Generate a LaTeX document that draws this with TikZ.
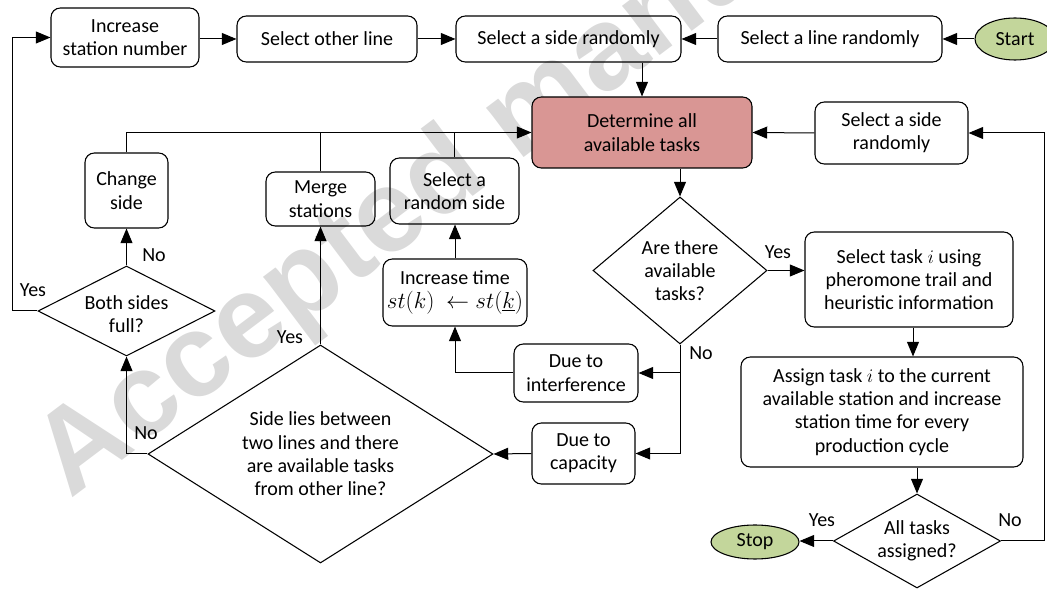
\documentclass[tikz,border=0pt]{standalone}
\usepackage{fontspec}
\setmainfont{Carlito}
\newfontfamily\wmfont{Liberation Sans}
\usetikzlibrary{shapes.geometric,arrows.meta,calc}
\definecolor{detfill}{HTML}{D99694}
\definecolor{termfill}{HTML}{C3D69B}
\definecolor{wmgray}{HTML}{DADADA}
\begin{document}
\begin{tikzpicture}[x=0.75pt,y=-0.75pt,
  every node/.style={font=\fontsize{15}{17.5}\selectfont},
  sz/.style 2 args={minimum width=#1*0.75pt, minimum height=#2*0.75pt},
  box/.style={draw, line width=0.8pt, rounded corners=7pt, align=center, inner sep=0pt},
  dia/.style={draw, diamond, line width=0.8pt, inner sep=0pt},
  term/.style={draw, ellipse, line width=0.8pt, fill=termfill, inner sep=0pt},
  dtext/.style={align=center, inner sep=0pt},
  arr/.style={line width=0.75pt, -{Triangle[length=11pt,width=9pt]}},
  ln/.style={line width=0.75pt},
  lbl/.style={inner sep=0pt},
  wm/.style={text=wmgray, inner sep=0pt, font=\wmfont\bfseries\fontsize{88}{88}\selectfont}
]
\useasboundingbox (0,0) rectangle (1047,591);
% watermark
\node[wm, rotate=37, anchor=base west] (wm) at (70,500) {Accepted manuscript};

% nodes
\node[box, sz={148}{59}] (inc) at (125,37.5) {Increase\\station number};
\node[box, sz={180}{46}] (other) at (327,39) {Select other line};
\node[box, sz={225}{46}] (side1) at (568.5,39) {Select a side randomly};
\node[box, sz={224}{46}] (line) at (830,39) {Select a line randomly};
\node[term, sz={80}{42}] (start) at (1015,39) {Start};
\node[box, fill=detfill, sz={220}{71}] (det) at (642,132.5) {Determine all\\available tasks};
\node[box, sz={153}{62}] (side2) at (891.5,133) {Select a side\\randomly};
\node[box, sz={83}{75}] (chg) at (126.5,190.5) {Change\\side};
\node[box, sz={109}{54}] (merge) at (320.5,199) {Merge\\stations};
\node[box, sz={129}{66}] (rand) at (454.5,191) {Select a\\random side};
\node[box, sz={144}{67}] (inct) at (455,292.5) {Increase time\\{\fontsize{17}{18}\selectfont$st(k)\ \leftarrow st(\underline{k})$}};
\node[box, sz={124}{58}] (intf) at (576,373) {Due to\\interference};
\node[box, sz={103}{61}] (cap) at (583.5,453.5) {Due to\\capacity};
\node[dia, sz={174}{147}] (q1) at (680,270.5) {};
\node[dtext] (q1t) at (q1) {Are there\\available\\tasks?};
\node[box, sz={208}{95}] (sel) at (909,279.5) {Select task $i$ using\\pheromone trail and\\heuristic information};
\node[box, sz={282}{110}] (asg) at (882,412) {Assign task $i$ to the current\\available station and increase\\station time for every\\production cycle};
\node[dia, sz={167}{94}] (q2) at (917,541) {};
\node[dtext] (q2t) at (q2) {All tasks\\assigned?};
\node[term, sz={88}{34}] (stop) at (755,542) {Stop};
\node[dia, sz={177}{90}] (q3) at (126.5,311) {};
\node[dtext] (q3t) at (126.5,314) {Both sides\\full?};
\node[dia, sz={345}{218}] (q4) at (320.5,454) {};
\node[dtext] (q4t) at (q4) {Side lies between\\two lines and there\\are available tasks\\from other line?};

% helper coordinates
\coordinate (ax) at (913,0);
\coordinate (rr) at (1044,0);
\coordinate (ll) at (12,0);

% connectors
\draw[arr] (start.west) -- (line.east);
\draw[arr] (line.west) -- (side1.east);
\draw[arr] (inc.east |- other.west) -- (other.west);
\draw[arr] (other.east) -- (side1.west);
\draw[arr] (side1.south -| det.north) -- (det.north);
\draw[arr] (chg.north) |- (det.west);
\draw[ln] (merge.north) -- (merge.north |- det.west);
\draw[ln] (rand.north) -- (rand.north |- det.west);
\draw[arr] (side2.west) -- (det.east);
\draw[arr] (det.south -| q1.north) -- (q1.north);
\draw[arr] (q1.east) -- (q1.east -| sel.west);
\draw[arr] (sel.south -| ax) -- (asg.north -| ax);
\draw[arr] (asg.south -| q2.north) -- (q2.north);
\draw[arr] (q2.west) -- (q2.west -| stop.east);
\draw[arr] (q2.east) -- (q2.east -| rr) |- (side2.east);
\draw[arr] (q1.south) |- (cap.east);
\draw[arr] (q1.south |- intf.east) -- (intf.east);
\draw[arr] (intf.west) -| (inct.south);
\draw[arr] (inct.north) -- (inct.north |- rand.south);
\draw[arr] (cap.west) -- (q4.east);
\draw[arr] (q4.north) -- (merge.south);
\draw[arr] (q4.west) -| (q3.south);
\draw[arr] (q3.north) -- (chg.south);
\draw[arr] (q3.west) -- (q3.west -| ll) |- (inc.west);

% labels
\node[lbl] (l1) at (778,252) {Yes};
\node[lbl] (l2) at (701,353) {No};
\node[lbl] (l3) at (822,520) {Yes};
\node[lbl] (l4) at (1010,520) {No};
\node[lbl] (l5) at (290,337) {Yes};
\node[lbl] (l6) at (146,433) {No};
\node[lbl] (l7) at (154,255) {No};
\node[lbl] (l8) at (33,290) {Yes};
\end{tikzpicture}
\end{document}
